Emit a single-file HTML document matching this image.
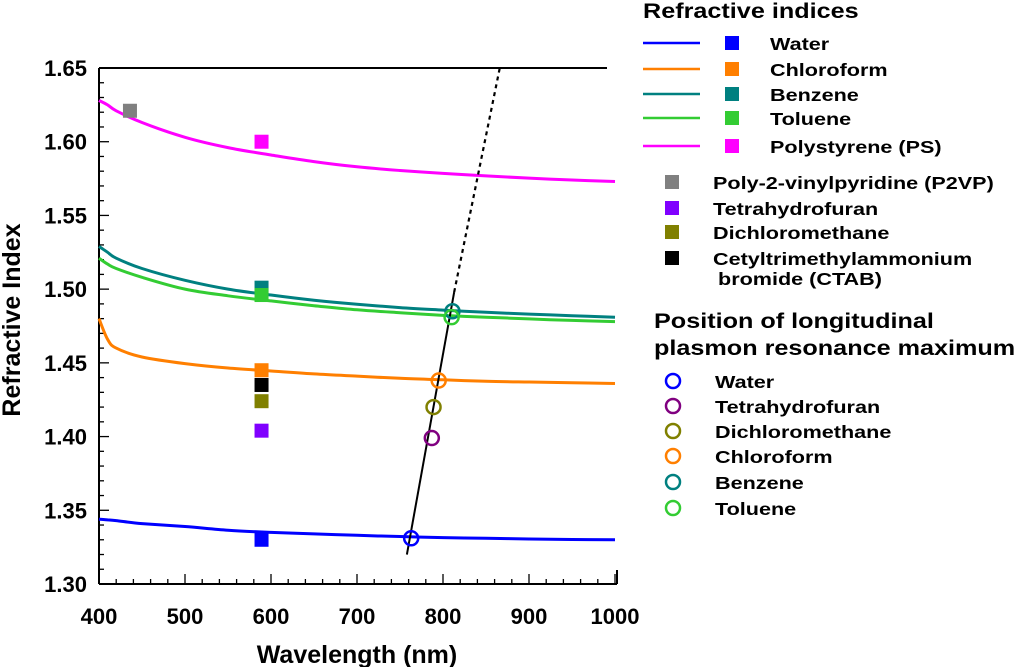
<!DOCTYPE html>
<html><head><meta charset="utf-8"><style>
body{margin:0;background:#fff;}
svg text{font-family:"Liberation Sans",Arial,sans-serif;font-weight:bold;fill:#000;}
</style></head><body>
<svg id="chart" width="1024" height="667"></svg>
<script>
const curveX=[400,410,420,450,500,550,600,650,700,750,800,850,900,950,1000];
const waterY=[1.344,1.3435,1.343,1.341,1.339,1.3365,1.335,1.334,1.333,1.3322,1.3315,1.331,1.3305,1.3302,1.330];
const chloroY=[1.480,1.466,1.460,1.454,1.4495,1.4465,1.4445,1.4425,1.441,1.4395,1.4385,1.4375,1.437,1.4365,1.436];
const benzeneY=[1.529,1.525,1.521,1.514,1.506,1.500,1.496,1.4925,1.4898,1.4875,1.4858,1.4843,1.4831,1.482,1.481];
const tolueneY=[1.521,1.517,1.514,1.508,1.500,1.4955,1.492,1.4888,1.486,1.484,1.4822,1.481,1.4798,1.4788,1.478];
const psY=[1.628,1.625,1.621,1.613,1.603,1.596,1.591,1.5865,1.583,1.5805,1.5785,1.5768,1.5753,1.574,1.573];
const squareNames=["water","chloroform","benzene","toluene","polystyrene","p2vp","tetrahydrofuran","dichloromethane","ctab"];
const squareX=[589,589,589,589,589,436,589,589,589];
const squareY=[1.330,1.445,1.501,1.496,1.600,1.621,1.404,1.424,1.435];
const squareColors=["#0000ff","#ff7f00","#008080","#33cc33","#ff00ff","#808080","#8000ff","#808000","#000000"];
const circleNames=["water","tetrahydrofuran","dichloromethane","chloroform","benzene","toluene"];
const circleX=[763,787,789,795,811,810];
const circleY=[1.331,1.399,1.420,1.438,1.485,1.481];
const circleColors=["#0000ff","#800080","#808000","#ff7f00","#008080","#33cc33"];
const fitSolidX=[758,813];const fitSolidY=[1.320,1.498];
const fitDotX=[813,866];const fitDotY=[1.498,1.650];
const xTicks=[400,500,600,700,800,900,1000];
const yTicks=[1.30,1.35,1.40,1.45,1.50,1.55,1.60,1.65];

const NS="http://www.w3.org/2000/svg";
const svg=document.getElementById('chart');
const X0=99,X1=615,Y0=584,Y1=68;
const sx=v=>X0+(v-400)/600*(X1-X0);
const sy=v=>Y0-(v-1.30)/0.35*(Y0-Y1);
function mk(tag,at,parent){const e=document.createElementNS(NS,tag);for(const k in at)e.setAttribute(k,at[k]);(parent||svg).appendChild(e);return e;}
function smooth(pts){let d='M'+pts[0][0].toFixed(1)+','+pts[0][1].toFixed(1);
for(let i=0;i<pts.length-1;i++){const p0=pts[Math.max(i-1,0)],p1=pts[i],p2=pts[i+1],p3=pts[Math.min(i+2,pts.length-1)];
const c1=[p1[0]+(p2[0]-p0[0])/6,p1[1]+(p2[1]-p0[1])/6],c2=[p2[0]-(p3[0]-p1[0])/6,p2[1]-(p3[1]-p1[1])/6];
d+='C'+c1.map(v=>v.toFixed(1)).join(',')+' '+c2.map(v=>v.toFixed(1)).join(',')+' '+p2[0].toFixed(1)+','+p2[1].toFixed(1);}
return d;}
let e=mk('line',{x1:X0,y1:Y1,x2:607,y2:Y1,stroke:'#000','stroke-width':2});


e=mk('line',{x1:X0,y1:Y1,x2:X0,y2:Y0,stroke:'#000','stroke-width':2});


e=mk('line',{x1:X0,y1:Y0,x2:617,y2:Y0,stroke:'#000','stroke-width':2});


mk('line',{x1:617,y1:Y0,x2:617,y2:Y0-14,stroke:'#000','stroke-width':2});
for(let v=400;v<=1000;v+=20){const major=(v%100===0);mk('line',{x1:sx(v),y1:Y0,x2:sx(v),y2:Y0-(major?10:5),stroke:'#000','stroke-width':1.3});}
for(let i=0;i<=35;i++){const v=1.30+i*0.01;const major=(i%5===0);mk('line',{x1:X0,y1:sy(v),x2:X0+(major?10:5),y2:sy(v),stroke:'#000','stroke-width':1.3});}
xTicks.forEach(v=>{const t=mk('text',{x:sx(v),y:Y0+40,'text-anchor':'middle','font-size':22});t.textContent=v;

});
yTicks.forEach(v=>{const t=mk('text',{x:X0-12,y:sy(v)+8,'text-anchor':'end','font-size':22});t.textContent=v.toFixed(2);

});
let t=mk('text',{x:357,y:663,'text-anchor':'middle','font-size':25});t.textContent='Wavelength (nm)';


t=mk('text',{x:0,y:0,'text-anchor':'middle','font-size':25,transform:'translate(20,320) rotate(-90)'});t.textContent='Refractive Index';


const curves=[[waterY,'#0000ff','water-curve'],[chloroY,'#ff7f00','chloroform-curve'],[benzeneY,'#008080','benzene-curve'],[tolueneY,'#33cc33','toluene-curve'],[psY,'#ff00ff','polystyrene-curve']];
curves.forEach(c=>{const pts=curveX.map((x,i)=>[sx(x),sy(c[0][i])]);
const p=mk('path',{d:smooth(pts),fill:'none',stroke:c[1],'stroke-width':3});

});
squareX.forEach((x,i)=>{const r=mk('rect',{x:sx(x)-7,y:sy(squareY[i])-7,width:14,height:14,fill:squareColors[i]});

});
e=mk('line',{x1:sx(fitSolidX[0]),y1:sy(fitSolidY[0]),x2:sx(fitSolidX[1]),y2:sy(fitSolidY[1]),stroke:'#000','stroke-width':2});


e=mk('line',{x1:sx(fitDotX[0]),y1:sy(fitDotY[0]),x2:sx(fitDotX[1]),y2:sy(fitDotY[1]),stroke:'#000','stroke-width':2.2,'stroke-dasharray':'4,4'});


circleX.forEach((x,i)=>{const c=mk('circle',{cx:sx(x),cy:sy(circleY[i]),r:7,fill:'none',stroke:circleColors[i],'stroke-width':2.5});

});
const lg=mk('g',{});


function txt(x,y,s,fs,name){const t=mk('text',{x:0,y:0,'font-size':fs,transform:'translate('+x+','+y+') scale(1.2,1)'},lg);t.textContent=s;

}
txt(643,18,'Refractive indices',21,'legend-title-refractive');
const l1=['Water','Chloroform','Benzene','Toluene','Polystyrene (PS)'];
const l1y=[43,69,94,118,146];
l1.forEach((s,i)=>{mk('line',{x1:643,y1:l1y[i],x2:700,y2:l1y[i],stroke:squareColors[i],'stroke-width':2.5},lg);
mk('rect',{x:725,y:l1y[i]-7,width:14,height:14,fill:squareColors[i]},lg);
txt(770,l1y[i]+7,s,18,'legend-entry');});
const l2=['Poly-2-vinylpyridine (P2VP)','Tetrahydrofuran','Dichloromethane','Cetyltrimethylammonium'];
const l2y=[182,208,232,258];
l2.forEach((s,i)=>{mk('rect',{x:665,y:l2y[i]-7,width:14,height:14,fill:squareColors[5+i]},lg);
txt(713,l2y[i]+7,s,18,'legend-entry');});
txt(718,285,'bromide (CTAB)',18,'legend-entry');
txt(654,328,'Position of longitudinal',21,'legend-title-plasmon');
txt(654,355,'plasmon resonance maximum',21,'legend-title-plasmon');
const l3=['Water','Tetrahydrofuran','Dichloromethane','Chloroform','Benzene','Toluene'];
const l3y=[381,406,431,456,482,508];
l3.forEach((s,i)=>{mk('circle',{cx:673,cy:l3y[i],r:7,fill:'none',stroke:circleColors[i],'stroke-width':2.5},lg);
txt(715,l3y[i]+7,s,18,'legend-entry');});
</script>
</body></html>
